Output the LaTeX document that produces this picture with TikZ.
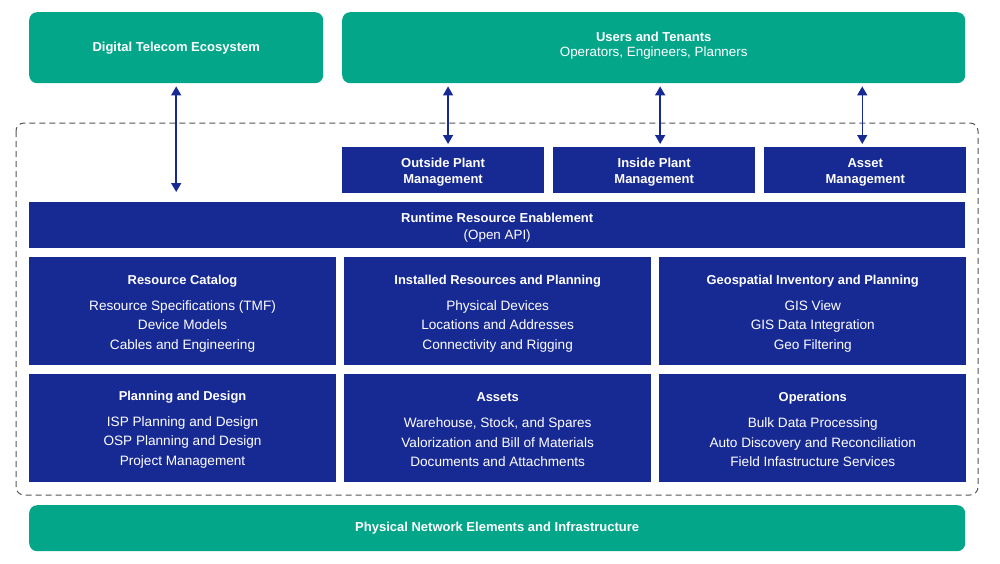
\documentclass[tikz,border=0pt]{standalone}
\usepackage{fontspec}
\setmainfont{Liberation Sans}
\usetikzlibrary{
  arrows.meta,
  backgrounds,
  positioning,
}
\definecolor{ecoteal}{RGB}{4,166,138}
\definecolor{coreblue}{RGB}{23,42,148}
\definecolor{framegray}{RGB}{85,85,85}
\newcommand{\lift}{\rule{0pt}{13.5pt}}
\newcommand{\modtitle}[1]{{\fontsize{12.9}{19.5}\selectfont\bfseries\lift #1}}
\tikzset{
  >={Triangle[length=9pt,width=10pt]},
  outer/.style={fill=ecoteal, text=white, rounded corners=8pt, align=center,
    inner sep=0pt, anchor=north west, font=\fontsize{13}{15}\selectfont\bfseries},
  layer/.style={fill=coreblue, text=white, align=center, inner sep=0pt,
    anchor=north west, font=\fontsize{13}{16}\selectfont\bfseries},
  module/.style={layer, minimum width=306.7pt, minimum height=108pt,
    font=\fontsize{13.6}{19.5}\selectfont},
  mgmt/.style={layer, minimum width=201.7pt, minimum height=46pt},
  link/.style={<->, draw=coreblue, line width=1.5pt, shorten <=3pt, shorten >=3pt},
}

\begin{document}
\begin{tikzpicture}[x=1pt, y=-1pt]
  \useasboundingbox (0,0) rectangle (1000,563);
  \node[outer, minimum width=294pt, minimum height=71pt] (eco) at (29,12) {Digital Telecom Ecosystem};
  \node[outer, minimum width=623pt, minimum height=71pt,
    label={[text=white, align=center, yshift=2pt, font=\fontsize{13}{15}\selectfont\bfseries]center:
      Users and Tenants\\ {\fontsize{13.4}{15}\selectfont\mdseries Operators, Engineers, Planners}}]
    (users) at (342,12) {};
  \node[mgmt] (opm) at (342,147) {\lift Outside Plant\\ Management};
  \node[mgmt, right=9pt of opm] (ipm) {\lift Inside Plant\\ Management};
  \node[mgmt, right=9pt of ipm] (am) {\lift Asset\\ Management};
  \node[layer, minimum width=936pt, minimum height=46pt, font=\fontsize{13}{17}\selectfont\bfseries] (rre) at (29,202)
    {\lift Runtime Resource Enablement\\ {\fontsize{13.4}{17}\selectfont\mdseries (Open API)}};
  % modules
  \node[module] (catalog) at (29,257) {\modtitle{Resource Catalog}\\[6.5pt]
    Resource Specifications (TMF)\\ Device Models\\ Cables and Engineering};
  \node[module, right=8pt of catalog] (installed) {\modtitle{Installed Resources and Planning}\\[6.5pt]
    Physical Devices\\ Locations and Addresses\\ Connectivity and Rigging};
  \node[module, right=8pt of installed] (geo) {\modtitle{Geospatial Inventory and Planning}\\[6.5pt]
    GIS View\\ GIS Data Integration\\ Geo Filtering};
  \node[module, below=8pt of catalog] (design) {\modtitle{Planning and Design}\\[6.5pt]
    ISP Planning and Design\\ OSP Planning and Design\\ Project Management};
  \node[module, below=8pt of installed] (assets) {\modtitle{Assets}\\[6.5pt]
    Warehouse, Stock, and Spares\\ Valorization and Bill of Materials\\ Documents and Attachments};
  \node[module, below=8pt of geo] (ops) {\modtitle{Operations}\\[6.5pt]
    Bulk Data Processing\\ Auto Discovery and Reconciliation\\ Field Infastructure Services};
  \node[outer, minimum width=936pt, minimum height=46pt] (phys) at (29,505) {Physical Network Elements and Infrastructure};
  % platform frame
  \begin{scope}[on background layer]
    \draw[framegray, line width=1pt, dash pattern=on 6pt off 4pt, rounded corners=8pt] (16,123) rectangle (978,495);
  \end{scope}
  % connectors
  \draw[link, shorten >=10pt] (eco) -- (eco |- rre.north);
  \draw[link] ([xshift=5pt]opm.north) -- ([xshift=5pt]opm.north |- users.south);
  \draw[link] ([xshift=6pt]ipm.north) -- ([xshift=6pt]ipm.north |- users.south);
  \draw[link] ([xshift=-3pt]am.north) -- ([xshift=-3pt]am.north |- users.south);
\end{tikzpicture}
\end{document}
